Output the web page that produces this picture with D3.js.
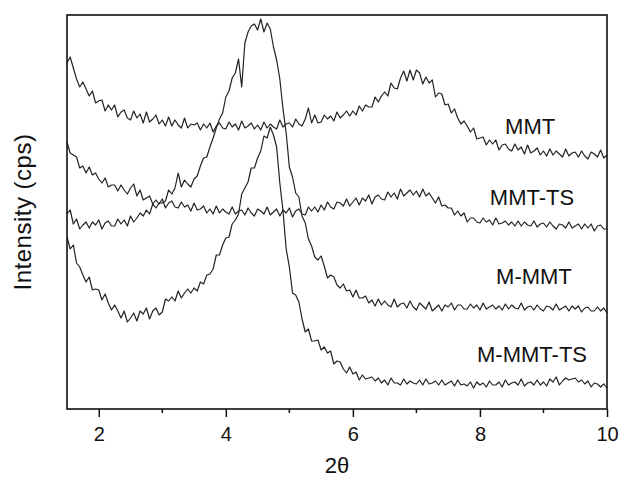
<!DOCTYPE html>
<html>
<head>
<meta charset="utf-8">
<script src="https://cdn.jsdelivr.net/npm/d3@7"></script>
<style>
  body { margin: 0; background: #fff; }
  svg { display: block; font-family: "Liberation Sans", Arial, sans-serif; }
</style>
</head>
<body>
<svg id="chart"></svg>
<script>
// 2-theta scan: 1.5 to 10 deg, 0.05 deg step
const thetaStart = 1.5;
const thetaStep = 0.05;

const majorTicks = [2, 4, 6, 8, 10];
const minorTicks = [3, 5, 7, 9];

// intensities (arbitrary counts, curves offset as in the figure)
const mmt = [
  346, 352, 341, 330, 322, 327, 320, 313, 318, 306, 308, 309, 298, 304, 299, 304, 292, 297, 299, 291,
  289, 298, 291, 295, 286, 297, 287, 290, 294, 285, 289, 283, 292, 283, 289, 284, 281, 291, 281, 285,
  284, 286, 279, 285, 281, 286, 277, 283, 286, 281, 280, 287, 282, 285, 279, 288, 281, 283, 286, 280,
  284, 279, 287, 281, 285, 282, 280, 289, 282, 285, 286, 282, 290, 285, 283, 290, 301, 286, 294, 286,
  287, 294, 290, 293, 288, 297, 291, 294, 298, 293, 298, 294, 303, 298, 304, 302, 302, 312, 307, 313,
  317, 313, 326, 321, 320, 331, 338, 328, 339, 329, 339, 336, 325, 332, 326, 329, 312, 316, 315, 304,
  305, 296, 300, 291, 285, 288, 283, 277, 281, 270, 271, 272, 264, 269, 265, 269, 259, 264, 265, 260,
  258, 265, 259, 262, 255, 264, 256, 258, 261, 254, 258, 253, 260, 254, 258, 255, 252, 260, 253, 256,
  257, 252, 258, 253, 250, 257, 255, 252, 259, 251, 254
];
const mmtTs = [
  267, 256, 254, 252, 241, 243, 236, 242, 234, 236, 230, 226, 231, 222, 224, 224, 218, 224, 219, 215,
  221, 225, 213, 219, 209, 211, 213, 205, 209, 205, 210, 201, 206, 208, 202, 201, 207, 202, 204, 198,
  206, 199, 200, 203, 196, 200, 195, 203, 196, 200, 197, 195, 202, 195, 198, 199, 194, 201, 196, 193,
  200, 198, 195, 202, 194, 197, 200, 193, 199, 196, 201, 192, 198, 200, 195, 194, 202, 198, 202, 197,
  204, 199, 207, 202, 200, 207, 206, 203, 210, 203, 207, 211, 204, 211, 208, 214, 205, 212, 214, 210,
  209, 217, 212, 216, 210, 220, 213, 216, 219, 214, 218, 212, 220, 213, 216, 211, 206, 212, 203, 204,
  201, 201, 194, 198, 193, 196, 187, 191, 191, 187, 186, 191, 187, 189, 184, 191, 185, 186, 188, 184,
  187, 183, 188, 183, 187, 184, 183, 188, 182, 185, 186, 182, 187, 183, 180, 185, 184, 181, 187, 181,
  183, 185, 180, 185, 181, 185, 178, 183, 184, 180, 180
];
const mMmt = [
  195, 199, 185, 190, 180, 184, 187, 181, 187, 184, 189, 180, 186, 188, 183, 183, 190, 185, 189, 183,
  193, 187, 191, 196, 193, 199, 195, 205, 201, 206, 206, 208, 219, 215, 221, 236, 222, 229, 225, 222,
  230, 233, 243, 251, 252, 262, 271, 281, 290, 296, 312, 318, 331, 336, 350, 322, 366, 377, 383, 385,
  379, 390, 377, 386, 380, 362, 349, 330, 300, 276, 242, 232, 216, 212, 193, 186, 170, 163, 152, 149,
  153, 143, 131, 134, 132, 124, 121, 125, 118, 119, 112, 119, 111, 111, 113, 106, 109, 103, 110, 104,
  108, 104, 102, 110, 102, 105, 106, 101, 108, 102, 99, 106, 103, 100, 107, 98, 101, 104, 98, 104,
  102, 106, 99, 104, 104, 100, 100, 105, 101, 104, 99, 106, 100, 102, 104, 100, 103, 99, 105, 100,
  104, 101, 100, 106, 99, 102, 103, 99, 104, 100, 98, 103, 102, 99, 105, 99, 101, 103, 98, 103,
  100, 103, 97, 101, 102, 98, 98, 102, 98, 101, 96
];
const mMmtTs = [
  172, 160, 164, 146, 142, 134, 127, 132, 119, 120, 119, 109, 115, 106, 99, 104, 98, 91, 98, 87,
  91, 96, 88, 98, 95, 101, 90, 98, 101, 94, 97, 110, 108, 112, 108, 118, 111, 116, 120, 116,
  121, 118, 127, 125, 134, 135, 140, 154, 154, 164, 171, 172, 185, 189, 195, 215, 221, 227, 241, 241,
  251, 258, 273, 271, 282, 274, 262, 226, 198, 160, 142, 116, 114, 107, 90, 77, 80, 68, 68, 69,
  59, 62, 56, 58, 45, 48, 47, 40, 36, 42, 35, 37, 29, 34, 30, 31, 32, 28, 31, 26,
  29, 24, 31, 26, 26, 24, 30, 25, 28, 26, 25, 29, 24, 30, 25, 26, 28, 24, 29, 24,
  26, 28, 23, 29, 24, 25, 23, 27, 21, 27, 24, 26, 22, 28, 24, 24, 27, 22, 29, 24,
  26, 27, 24, 30, 23, 26, 27, 24, 29, 24, 27, 23, 30, 27, 32, 24, 28, 31, 29, 30,
  31, 27, 29, 25, 28, 22, 26, 25, 22, 25, 21
];

const series = [
  { name: "MMT", values: mmt, label: [8.79, 275] },
  { name: "MMT-TS", values: mmtTs, label: [8.82, 204] },
  { name: "M-MMT", values: mMmt, label: [8.85, 125] },
  { name: "M-MMT-TS", values: mMmtTs, label: [8.82, 47] }
];

const width = 621;
const height = 480;
const margin = { top: 15, right: 14, bottom: 71, left: 67 };

const svg = d3.select("#chart").attr("width", width).attr("height", height);

const x = d3.scaleLinear().domain([1.5, 10]).range([margin.left, width - margin.right]);
const y = d3.scaleLinear().domain([0, 394]).range([height - margin.bottom, margin.top]);

const line = d3
  .line()
  .x((d, i) => x(thetaStart + i * thetaStep))
  .y((d) => y(d));

svg
  .selectAll("path.curve")
  .data(series)
  .enter()
  .append("path")
  .attr("class", "curve")
  .attr("fill", "none")
  .attr("stroke", "#222")
  .attr("stroke-width", 1.2)
  .attr("stroke-linejoin", "round")
  .attr("d", (d) => line(d.values));

svg
  .selectAll("text.label")
  .data(series)
  .enter()
  .append("text")
  .attr("class", "label")
  .attr("x", (d) => x(d.label[0]))
  .attr("y", (d) => y(d.label[1]))
  .attr("text-anchor", "middle")
  .attr("font-size", 22)
  .attr("fill", "#111")
  .text((d) => d.name);

// frame
svg
  .append("rect")
  .attr("x", x(1.5))
  .attr("y", y(394))
  .attr("width", x(10) - x(1.5))
  .attr("height", y(0) - y(394))
  .attr("fill", "none")
  .attr("stroke", "#111")
  .attr("stroke-width", 1.6);

// bottom axis
const xAxis = d3.axisBottom(x).tickValues(majorTicks).tickSize(8).tickSizeOuter(0).tickFormat(d3.format("d"));
const gx = svg.append("g").attr("transform", `translate(0,${y(0)})`).call(xAxis);
gx.select(".domain").remove();
gx.selectAll(".tick line").attr("stroke", "#111").attr("stroke-width", 1.5);
gx.selectAll(".tick text")
  .attr("font-size", 20)
  .attr("font-family", "Liberation Sans, Arial, sans-serif")
  .attr("fill", "#111")
  .attr("dy", "1.05em");

svg
  .append("g")
  .selectAll("line")
  .data(minorTicks)
  .enter()
  .append("line")
  .attr("x1", (d) => x(d))
  .attr("x2", (d) => x(d))
  .attr("y1", y(0))
  .attr("y2", y(0) + 4)
  .attr("stroke", "#111")
  .attr("stroke-width", 1.5);

svg
  .append("text")
  .attr("x", (x(1.5) + x(10)) / 2)
  .attr("y", 473)
  .attr("text-anchor", "middle")
  .attr("font-size", 22)
  .attr("fill", "#111")
  .text("2θ");

svg
  .append("text")
  .attr("transform", `translate(31,${(y(0) + y(394)) / 2}) rotate(-90)`)
  .attr("text-anchor", "middle")
  .attr("font-size", 24)
  .attr("letter-spacing", 0.5)
  .attr("fill", "#111")
  .text("Intensity (cps)");
</script>
</body>
</html>
